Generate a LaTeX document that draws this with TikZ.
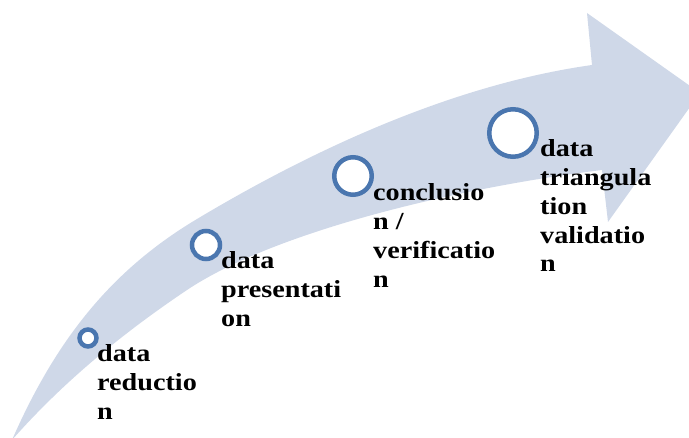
\documentclass[tikz,border=0pt]{standalone}
\usepackage{fontspec}
\newfontfamily\lblfont{Liberation Serif}[FakeStretch=1.15]
\definecolor{bandcol}{RGB}{207,216,232}
\definecolor{ringcol}{RGB}{74,118,175}
\tikzset{
  band/.style={fill=bandcol},
  ring/.style={circle, draw=ringcol, line width=4.5pt, fill=white, inner sep=0pt},
  lbl/.style={anchor=base west, inner sep=0pt, font=\lblfont\fontsize{24.5}{28.7}\selectfont\bfseries}
}
\begin{document}
\begin{tikzpicture}[x=1pt,y=-1pt]
\useasboundingbox (0,0) rectangle (689,438);
\begin{scope}
\clip (0,0) rectangle (689,438);
\fill[band] (12,440) .. controls (58,335) and (115,268) .. (197,219)
  .. controls (309,152) and (450,85) .. (592,65)
  -- (587,13) -- (700,93) -- (608,222) -- (602,170)
  .. controls (463,187) and (277,230) .. (187,290)
  .. controls (123,333) and (63,382) .. (12,440) -- cycle;
\end{scope}
\node[ring, minimum size=17pt] (c1) at (88,338) {};
\node[ring, minimum size=28pt] (c2) at (206,245) {};
\node[ring, minimum size=37.5pt] (c3) at (353,176) {};
\node[ring, minimum size=47.5pt] (c4) at (513,133) {};
\node[lbl] (t1) at (97,362) {\begin{tabular}[t]{@{}l@{}}data\\reductio\\n\end{tabular}};
\node[lbl] (t2) at (221,269) {\begin{tabular}[t]{@{}l@{}}data\\presentati\\on\end{tabular}};
\node[lbl] (t3) at (373,201) {\begin{tabular}[t]{@{}l@{}}conclusio\\n /\\verificatio\\n\end{tabular}};
\node[lbl] (t4) at (540,157) {\begin{tabular}[t]{@{}l@{}}data\\triangula\\tion\\validatio\\n\end{tabular}};
\end{tikzpicture}
\end{document}
